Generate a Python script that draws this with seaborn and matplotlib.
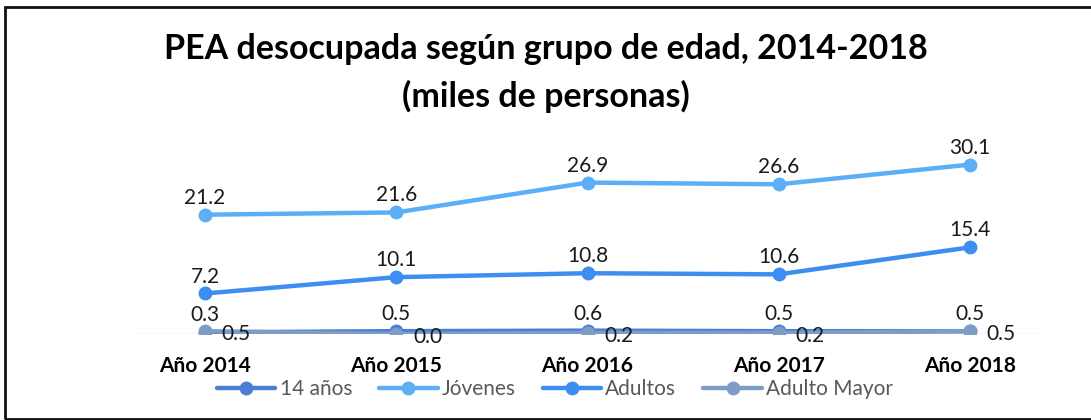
import matplotlib
matplotlib.use("Agg")
import matplotlib.pyplot as plt
import seaborn as sns
import pandas as pd
from matplotlib.patches import Rectangle

years = ["Año 2014", "Año 2015", "Año 2016", "Año 2017", "Año 2018"]
catorce = [0.3, 0.5, 0.6, 0.5, 0.5]
jovenes = [21.2, 21.6, 26.9, 26.6, 30.1]
adultos = [7.2, 10.1, 10.8, 10.6, 15.4]
adulto_mayor = [0.5, 0.0, 0.2, 0.2, 0.5]
series_names = ["14 años", "Jóvenes", "Adultos", "Adulto Mayor"]
title = "PEA desocupada según grupo de edad, 2014-2018\n(miles de personas)"

sns.set_theme(style="white")
plt.rcParams["font.family"] = ["Lato", "DejaVu Sans"]

colors = {"14 años": "#4a7fd4", "Jóvenes": "#5caef5",
          "Adultos": "#3d8ef0", "Adulto Mayor": "#7d9dc8"}

values = {"14 años": catorce, "Jóvenes": jovenes,
          "Adultos": adultos, "Adulto Mayor": adulto_mayor}
rows = []
for name in series_names:
    for y, v in zip(years, values[name]):
        rows.append({"Año": y, "valor": v, "grupo": name})
df = pd.DataFrame(rows)

fig = plt.figure(figsize=(10.91, 4.20), dpi=100)
ax = fig.add_axes([135/1091, 1 - 334/420, 905/1091, 0.469])

ax.axhline(0, color="#d9d9d9", lw=1, zorder=0)
sns.lineplot(data=df, x="Año", y="valor", hue="grupo", hue_order=series_names,
             palette=colors, marker="o", markersize=10, markeredgewidth=0,
             linewidth=3.2, ax=ax, legend=True, sort=False)

ax.set_xlim(-0.366, 4.366)
ax.set_ylim(0, 35)
ax.set_xlabel("")
ax.set_ylabel("")
ax.set_yticks([])
for s in ax.spines.values():
    s.set_visible(False)
ax.tick_params(axis="x", length=0, pad=16)
for lbl in ax.get_xticklabels():
    lbl.set_fontweight("bold")
    lbl.set_fontsize(15)
    lbl.set_color("#000000")

for name in series_names:
    for i, v in enumerate(values[name]):
        if name == "Adulto Mayor":
            ax.annotate(f"{v:.1f}", (i, v), xytext=(12, -2), textcoords="offset points",
                        ha="left", va="center", fontsize=15, color="#1a1a1a")
        else:
            ax.annotate(f"{v:.1f}", (i, v), xytext=(0, 5), textcoords="offset points",
                        ha="center", va="bottom", fontsize=15, color="#1a1a1a")

handles, labels = ax.get_legend_handles_labels()
ax.get_legend().remove()
leg = fig.legend(handles, labels, loc="center", bbox_to_anchor=(555/1091, 1 - 389/420),
                 ncol=4, frameon=False, fontsize=15, handlelength=2.8,
                 handletextpad=0.2, columnspacing=1.3, borderpad=0.1)
for t in leg.get_texts():
    t.set_color("#595959")

fig.text(0.5, 1 - 73/420, title, ha="center", va="center", fontsize=24.5,
         fontweight="bold", color="#000000", linespacing=1.55)

fig.patches.append(Rectangle((5/1091, 1/420), 1.05, 1 - 8/420, transform=fig.transFigure,
                             fill=False, edgecolor="#111111", lw=2))

fig.savefig("out.png", dpi=100, facecolor="white")
